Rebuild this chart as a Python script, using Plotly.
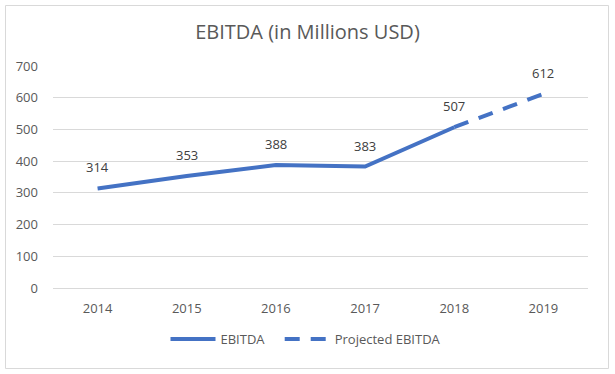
import plotly.graph_objects as go

years = ["2014", "2015", "2016", "2017", "2018", "2019"]
actual_years = ["2014", "2015", "2016", "2017", "2018"]
actual_vals = [314, 353, 388, 383, 507]
proj_years = ["2018", "2019"]
proj_vals = [507, 612]
label_years = ["2014", "2015", "2016", "2017", "2018", "2019"]
label_vals = [314, 353, 388, 383, 507, 612]
y_ticks = [0, 100, 200, 300, 400, 500, 600, 700]

blue = "#4472C4"
grey_txt = "#595959"
grid = "#D9D9D9"
FONT = "Open Sans"

fig = go.Figure()
fig.add_trace(go.Scatter(x=actual_years, y=actual_vals, mode="lines",
                         name="EBITDA&nbsp;&nbsp;&nbsp;",
                         line=dict(color=blue, width=4)))
fig.add_trace(go.Scatter(x=proj_years, y=proj_vals, mode="lines", name="Projected EBITDA",
                         line=dict(color=blue, width=4, dash="15px,11px")))

annotations = []
for x, v in zip(label_years, label_vals):
    annotations.append(dict(x=years.index(x), y=v, xref="x", yref="y", text=str(v),
                            showarrow=False, yshift=21,
                            font=dict(family=FONT, size=13, color="#404040")))

W, H = 615, 374
L, R, T, B = 53, 27, 66, 86
pw, ph = W - L - R, H - T - B

def px2paper_x(px):
    return (px - L) / pw

def px2paper_y(py):
    return (H - B - py) / ph

fig.update_layout(
    width=W, height=H,
    margin=dict(l=L, r=R, t=T, b=B),
    paper_bgcolor="white", plot_bgcolor="white",
    title=dict(text="EBITDA (in Millions USD)", x=0.5, xanchor="center",
               y=1 - 32 / H, yanchor="middle",
               font=dict(family=FONT, size=20, color=grey_txt)),
    font=dict(family=FONT, size=13, color=grey_txt),
    xaxis=dict(type="category", categoryorder="array", categoryarray=years,
               range=[-0.5, 5.5], showgrid=False, showline=True, linecolor=grid,
               linewidth=1, ticks="", tickfont=dict(size=13, color=grey_txt),
               ticklabelstandoff=8, zeroline=False),
    yaxis=dict(range=[0, 700], tickvals=y_ticks, showgrid=True, gridcolor=grid,
               gridwidth=1, zeroline=False, showline=False, ticks="",
               tickfont=dict(size=13, color=grey_txt), ticklabelstandoff=14),
    showlegend=True,
    legend=dict(orientation="h", x=px2paper_x(306), xanchor="center", y=px2paper_y(339),
                yanchor="middle", font=dict(family=FONT, size=13, color=grey_txt),
                itemwidth=45, bgcolor="rgba(0,0,0,0)"),
    annotations=annotations,
    shapes=[dict(type="rect", xref="paper", yref="paper",
                 x0=px2paper_x(5.5), x1=px2paper_x(608.5),
                 y0=px2paper_y(368.5), y1=px2paper_y(5.5),
                 line=dict(color=grid, width=1), fillcolor="rgba(0,0,0,0)", layer="below")],
)

fig.write_html("out.html", config={"displayModeBar": False},
               post_script="document.body.style.margin='0';")
